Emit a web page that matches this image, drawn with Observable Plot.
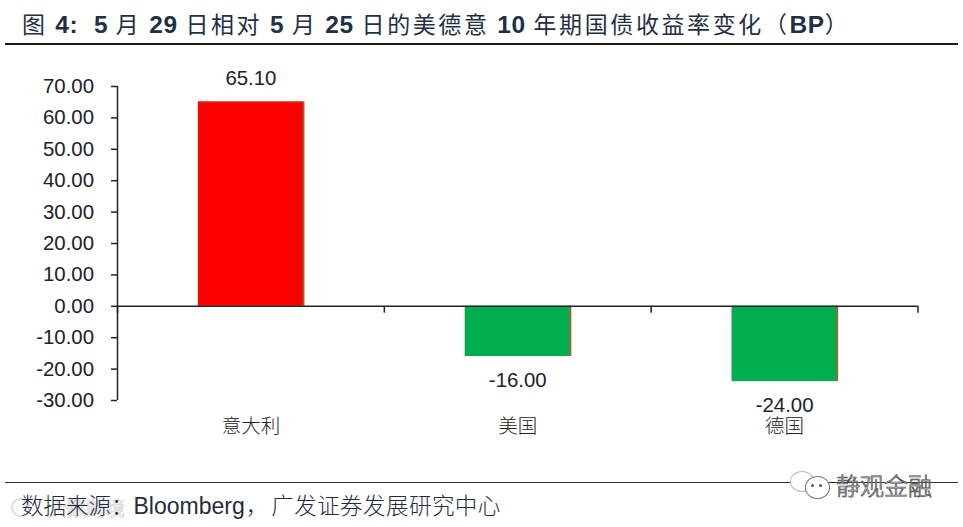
<!DOCTYPE html>
<html><head><meta charset="utf-8">
<script src="https://cdn.jsdelivr.net/npm/d3@7"></script>
<script src="https://cdn.jsdelivr.net/npm/@observablehq/plot@0.6"></script>
<style>
html,body{margin:0;padding:0;background:#fff;width:963px;height:527px;overflow:hidden;position:relative}
#title{position:absolute;left:5px;top:0;width:953px;height:43px;border-bottom:2px solid #1b1b1b;
 font-family:"Noto Sans CJK SC";font-size:23px;line-height:47px;color:#1f3044;white-space:pre;}
#title span.t{position:absolute;top:0;left:17px;letter-spacing:2.6px}
#title b{font-family:"Liberation Sans";font-weight:700;font-size:24.5px;letter-spacing:.6px}
#chart{position:absolute;left:0;top:45px}
#rule{position:absolute;left:5px;top:482px;width:953px;height:1px;background:#333}
#source{position:absolute;left:21px;top:488px;font-family:"Noto Sans CJK SC";font-weight:300;font-size:22.5px;line-height:33px;color:#1f2d3d;white-space:pre}
#source i{font-style:normal;font-family:"Liberation Sans";font-size:23px;margin-right:1px}
#source u{text-decoration:none;margin-left:3px;letter-spacing:.45px}
#wm{position:absolute;left:47px;top:496px;font-family:"Noto Sans CJK SC";font-size:19.5px;line-height:24px;color:#fff;-webkit-text-stroke:.6px #ccc}
#wmlogo{position:absolute;left:11px;top:498px;width:15px;height:15px;border:2px solid #ddd;border-radius:50%}
#mark{position:absolute;left:836px;top:470px;font-family:"Noto Sans CJK SC";font-weight:300;font-size:24px;line-height:30px;color:#fff;-webkit-text-stroke:.7px #444}
.b{position:absolute;border:1px solid #777;border-radius:50%;background:#fff}
.d{position:absolute;width:3px;height:3px;border-radius:50%;background:#555}
</style></head><body>
<div id="title"><span class="t">图 <b>4:</b>  <b>5</b> 月 <b>29</b> 日相对 <b>5</b> 月 <b>25</b> 日的美德意 <b>10</b> 年期国债收益率变化（<b>BP</b>）</span></div>
<div id="chart"></div>
<div id="rule"></div>
<div id="wmlogo"></div>
<div id="wm">大数跨境</div>
<div id="source">数据来源：<i>Bloomberg</i>，<u>广发证券发展研究中心</u></div>
<div class="b" style="left:790px;top:471px;width:22px;height:19px;border-color:#bbb"></div>
<div class="b" style="left:805px;top:476px;width:23px;height:21px"></div>
<div class="d" style="left:811px;top:484px"></div>
<div class="d" style="left:819px;top:484px"></div>
<div id="mark">静观金融</div>
<script>
const categories = ["意大利", "美国", "德国"];
const values = [65.10, -16.00, -24.00];
const labels = ["65.10", "-16.00", "-24.00"];
const yTicks = [70, 60, 50, 40, 30, 20, 10, 0, -10, -20, -30];
const xBoundaries = [0, 1, 2, 3];
const barColors = ["#ff0000", "#00ae50", "#00ae50"];
const rows = categories.map((c, i) => ({c, i, v: values[i], label: labels[i], color: barColors[i]}));
const half = 0.197;
const ink = "#222";
const plot = Plot.plot({
  width: 963, height: 435,
  marginLeft: 117, marginRight: 45.5, marginTop: 41, marginBottom: 80,
  style: {fontFamily: '"Liberation Sans"', fontSize: "20px", background: "transparent", overflow: "visible"},
  x: {domain: [0, 3], axis: null},
  y: {domain: [-30, 70], axis: null},
  marks: [
    Plot.rectY(rows, {x1: d => d.i + .5 - half, x2: d => d.i + .5 + half, y1: 0, y2: "v", fill: "color"}),
    Plot.ruleX(rows, {x: d => d.i + .5 + half, y1: 0, y2: "v", stroke: "#96602f", strokeWidth: 2}),
    Plot.ruleY(rows.filter(d => d.v > 0), {y: "v", x1: d => d.i + .5 - half, x2: d => d.i + .5 + half, stroke: "#c8502a", strokeWidth: 1}),
    Plot.axisY({ticks: yTicks, tickFormat: d => d.toFixed(2), tickSize: 6, tickPadding: 17.5, label: null, stroke: ink, strokeWidth: 1.5, fill: "#222", fontSize: 20.4, fontFamily: '"Liberation Sans"'}),
    Plot.ruleX([0], {y1: -30, y2: 70, stroke: ink, strokeWidth: 1.5}),
    Plot.ruleY([0], {x1: 0, x2: 3, stroke: ink, strokeWidth: 1.5}),
    Plot.ruleX(xBoundaries, {x: d => d, y1: 0, y2: -2.2, stroke: ink, strokeWidth: 1.5}),
    Plot.axisX({ticks: [0.5, 1.5, 2.5], tickFormat: d => categories[d - .5], tickSize: 0, tickPadding: 19, label: null, fontSize: 19.5, fontFamily: '"Noto Sans CJK SC"', fontWeight: 300, fill: "#222"}),
    Plot.text(rows, {x: d => d.i + .5, y: "v", text: "label", fontSize: 20.4, fill: "#222", lineAnchor: "middle", filter: d => d.v > 0, dy: -23}),
    Plot.text(rows, {x: d => d.i + .5, y: "v", text: "label", fontSize: 20.4, fill: "#222", lineAnchor: "middle", filter: d => d.v < 0, dy: 24})
  ]
});
document.getElementById("chart").append(plot);
</script>
</body></html>
